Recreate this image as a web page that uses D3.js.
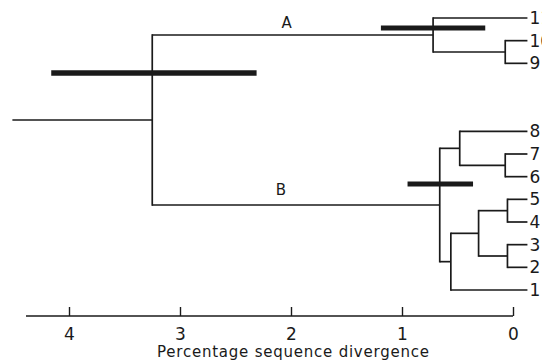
<html>
<script src="https://d3js.org/d3.v7.min.js"></script>
<body style="margin:0;background:#fff">
<svg id="chart" width="542" height="363"></svg>
</body>
<script>

// tree: internal nodes, divergence (%) at each split
var nodeIds     = ["root", "A", "n10_9", "B", "n8_7_6", "n7_6", "n1_5", "n2_5", "n5_4", "n3_2"];
var nodeParents = ["",     "root", "A",  "root", "B",    "n8_7_6", "B", "n1_5", "n2_5", "n2_5"];
var nodeDepths  = [3.25,   0.72,  0.07,   0.66,  0.48,   0.07,   0.56,  0.31,  0.05,  0.05];

// leaves, top to bottom
var leafNames   = ["11", "10", "9", "8", "7", "6", "5", "4", "3", "2", "1"];
var leafParents = ["A", "n10_9", "n10_9", "n8_7_6", "n7_6", "n7_6", "n5_4", "n5_4", "n3_2", "n3_2", "n1_5"];
var leafRows    = [0, 1, 2, 5, 6, 7, 8, 9, 10, 11, 12];
var leafDepth   = -0.13;
var rootStart   = 4.51;

// confidence bars on the main splits
var barNodes = ["root", "A", "B"];
var barFrom  = [4.16, 1.19, 0.95];
var barTo    = [2.31, 0.25, 0.36];
var barRows  = [2.43, 0.44, 7.32];

// clade labels
var cladeNames  = ["A", "B"];
var cladeDepths = [2.04, 2.09];
var cladeRows   = [0.45, 7.8];

var tickValues = [4, 3, 2, 1, 0];
var axisTitle  = "Percentage sequence divergence";

var ink = "#1a1a1a";
var font = "DejaVu Sans, sans-serif";

var x = d3.scaleLinear().domain([4, 0]).range([69, 513]);
var y = d3.scaleLinear().domain([0, 12]).range([18, 290]);

var table = [];
for (var i = 0; i < nodeIds.length; i++)
  table.push({id: nodeIds[i], parent: nodeParents[i], depth: nodeDepths[i]});
for (var j = 0; j < leafNames.length; j++)
  table.push({id: "leaf" + leafNames[j], parent: leafParents[j], depth: leafDepth, row: leafRows[j], name: leafNames[j]});

var root = d3.stratify()
  .id(function(d) { return d.id; })
  .parentId(function(d) { return d.parent || null; })(table);

// y of inner nodes = midpoint of first and last child
root.eachAfter(function(n) {
  if (n.children) {
    var ys = n.children.map(function(c) { return c.py; });
    n.py = (d3.min(ys) + d3.max(ys)) / 2;
  } else {
    n.py = y(n.data.row);
  }
  n.px = x(n.data.depth);
});

var svg = d3.select("#chart");
var g = svg.append("g").attr("stroke", ink).attr("stroke-width", 1.7).attr("fill", "none");

// stem
g.append("line")
  .attr("x1", x(rootStart)).attr("x2", root.px)
  .attr("y1", root.py).attr("y2", root.py)
  .attr("stroke-width", 1.4);

// horizontal branches
g.selectAll(".hbranch").data(root.descendants().slice(1)).enter().append("line")
  .attr("class", "hbranch")
  .attr("x1", function(d) { return d.parent.px; })
  .attr("x2", function(d) { return d.px; })
  .attr("y1", function(d) { return d.py; })
  .attr("y2", function(d) { return d.py; });

// vertical connectors
g.selectAll(".vbranch").data(root.descendants().filter(function(d) { return d.children; })).enter().append("line")
  .attr("class", "vbranch")
  .attr("x1", function(d) { return d.px; })
  .attr("x2", function(d) { return d.px; })
  .attr("y1", function(d) { return d3.min(d.children, function(c) { return c.py; }) - 0.8; })
  .attr("y2", function(d) { return d3.max(d.children, function(c) { return c.py; }) + 0.8; });

// confidence bars
svg.selectAll(".bar").data(barNodes).enter().append("line")
  .attr("class", "bar")
  .attr("x1", function(d, i) { return x(barFrom[i]); })
  .attr("x2", function(d, i) { return x(barTo[i]); })
  .attr("y1", function(d, i) { return y(barRows[i]); })
  .attr("y2", function(d, i) { return y(barRows[i]); })
  .attr("stroke", ink)
  .attr("stroke-width", function(d, i) { return i === 0 ? 5.5 : 5; });

// leaf labels
svg.selectAll(".leaf").data(root.leaves()).enter().append("text")
  .attr("class", "leaf")
  .attr("x", function(d) { return d.px + 2; })
  .attr("y", function(d) { return d.py; })
  .attr("dy", "0.36em")
  .attr("font-family", font).attr("font-size", 17)
  .attr("fill", ink)
  .text(function(d) { return d.data.name; });

// clade labels
svg.selectAll(".clade").data(cladeNames).enter().append("text")
  .attr("class", "clade")
  .attr("x", function(d, i) { return x(cladeDepths[i]); })
  .attr("y", function(d, i) { return y(cladeRows[i]); })
  .attr("text-anchor", "middle")
  .attr("font-family", font).attr("font-size", 15)
  .attr("fill", ink)
  .text(function(d) { return d; });

// axis
var axis = d3.axisBottom(x).tickValues(tickValues).tickSize(0).tickPadding(12)
  .tickFormat(d3.format("d"));
var ax = svg.append("g").attr("transform", "translate(0,316)").call(axis);
ax.select(".domain").remove();
ax.append("line")
  .attr("x1", 26).attr("x2", x(0))
  .attr("stroke", ink).attr("stroke-width", 1.6);
ax.selectAll(".tick").append("line")
  .attr("y1", 0).attr("y2", -9)
  .attr("stroke", ink).attr("stroke-width", 1.4);
ax.selectAll(".tick text")
  .attr("font-family", font).attr("font-size", 17)
  .attr("fill", ink);

svg.append("text")
  .attr("x", 293).attr("y", 357)
  .attr("text-anchor", "middle")
  .attr("font-family", font).attr("font-size", 15)
  .attr("textLength", 272).attr("lengthAdjust", "spacing")
  .attr("fill", ink)
  .text(axisTitle);

</script>
</html>
